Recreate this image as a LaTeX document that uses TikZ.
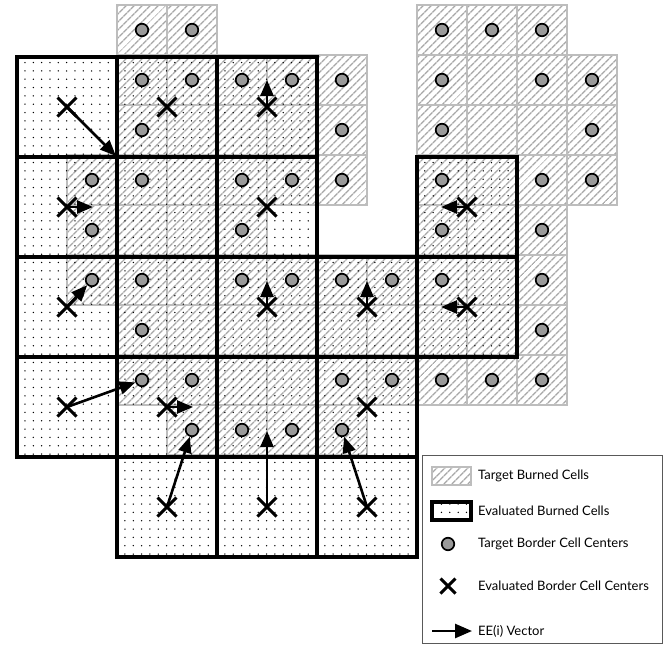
\documentclass[tikz,border=0pt]{standalone}
\usepackage{fontspec}
\setmainfont{Lato}
\usetikzlibrary{patterns.meta,arrows.meta,shapes.misc}
\definecolor{hatchgray}{gray}{0.66}
\definecolor{cellgray}{gray}{0.74}
\definecolor{dotgray}{gray}{0.60}
\definecolor{legendgray}{gray}{0.35}
\tikzset{
  tfill/.style={pattern={Lines[angle=45,distance=5.4pt,line width=1.4pt]}, pattern color=hatchgray},
  tline/.style={draw=cellgray, line width=1.6pt},
  edots/.style={pattern={Dots[distance=8.33pt,radius=0.75pt]}, pattern color=black},
  ecell/.style={draw=black, line width=4pt},
  tcirc/.style={circle, draw=black, line width=1.7pt, fill=dotgray, minimum size=12.5pt, inner sep=0pt},
  ecross/.style={cross out, draw=black, line width=3pt, minimum size=16pt, inner sep=0pt},
  vec/.style={line width=2.6pt, -{Triangle[length=16pt,width=13pt]}},
  lbox/.style={draw=legendgray, line width=1.2pt},
  ltext/.style={anchor=west, font=\fontsize{13}{15}\selectfont, inner sep=0pt}
}
\begin{document}
\begin{tikzpicture}[x=1pt,y=-1pt]
\useasboundingbox (0,0) rectangle (672,654);
% target burned cells: hatch fill
\foreach \j/\lst in {0/{2,3,8,9,10},1/{2,3,4,5,6,8,9,10,11},2/{2,3,4,5,6,8,9,10,11},3/{1,2,3,4,5,6,8,9,10,11},4/{1,2,3,4,8,9,10},5/{1,2,3,4,5,6,7,8,9,10},6/{2,3,4,5,6,7,8,9,10},7/{2,3,4,5,6,7,8,9,10},8/{3,4,5,6}}{
  \foreach \i in \lst { \path[tfill] (17+50*\i,5+50*\j) rectangle ++(50,50); }
}
\foreach \j/\lst in {0/{2,3,8,9,10},1/{2,3,4,5,6,8,9,10,11},2/{2,3,4,5,6,8,9,10,11},3/{1,2,3,4,5,6,8,9,10,11},4/{1,2,3,4,8,9,10},5/{1,2,3,4,5,6,7,8,9,10},6/{2,3,4,5,6,7,8,9,10},7/{2,3,4,5,6,7,8,9,10},8/{3,4,5,6}}{
  \foreach \i in \lst { \path[tline] (17+50*\i,5+50*\j) rectangle ++(50,50); }
}
% evaluated burned cells
\foreach \b/\lst in {0/{0,1,2},1/{0,1,2,4},2/{0,1,2,3,4},3/{0,1,2,3},4/{1,2,3}}{
  \foreach \a in \lst { \path[edots] (17+100*\a,57+100*\b) rectangle ++(100,100); }
}
\foreach \b/\lst in {0/{0,1,2},1/{0,1,2,4},2/{0,1,2,3,4},3/{0,1,2,3},4/{1,2,3}}{
  \foreach \a in \lst { \path[ecell] (17+100*\a,57+100*\b) rectangle ++(100,100); }
}
% target border cell centers
\foreach \j/\lst in {0/{2,3,8,9,10},1/{2,3,4,5,6,8,10,11},2/{2,6,8,11},3/{1,2,4,5,6,8,10,11},4/{1,4,8,10},5/{1,2,4,5,6,7,8,10},6/{2,10},7/{2,3,6,7,8,9,10},8/{3,4,5,6}}{
  \foreach \i in \lst { \node[tcirc] (c-\i-\j) at (42+50*\i,30+50*\j) {}; }
}
% evaluated border cell centers
\foreach \a/\b in {0/0,1/0,2/0,0/1,2/1,4/1,0/2,2/2,3/2,4/2,0/3,1/3,3/3,1/4,2/4,3/4}{
  \node[ecross] (x-\a-\b) at (67+100*\a,107+100*\b) {};
}
% free ends of vectors
\coordinate (e1) at (116,156);
\coordinate (e2) at (93,207);
\coordinate (e3) at (267,80);
\coordinate (e4) at (441,207);
\coordinate (e5) at (267,281);
\coordinate (e6) at (367,281);
\coordinate (e7) at (441,307);
\coordinate (e8) at (193,407);
\coordinate (e9) at (267,431);
% EE(i) vectors
\draw[vec] (x-0-0.center) -- (e1);
\draw[vec] (x-0-1.center) -- (e2);
\draw[vec] (x-2-0.center) -- (e3);
\draw[vec] (x-4-1.center) -- (e4);
\draw[vec] (x-0-2.center) -- (c-1-5);
\draw[vec] (x-2-2.center) -- (e5);
\draw[vec] (x-3-2.center) -- (e6);
\draw[vec] (x-4-2.center) -- (e7);
\draw[vec] (x-0-3.center) -- (c-2-7);
\draw[vec] (x-1-3.center) -- (e8);
\draw[vec] (x-1-4.center) -- (c-3-8);
\draw[vec] (x-2-4.center) -- (e9);
\draw[vec] (x-3-4.center) -- (c-6-8);
% legend
\node[lbox, fill=white, minimum width=240pt, minimum height=188pt, inner sep=0pt, anchor=north west] (legend) at (422,455) {};
\path[tfill] (432,467) rectangle (471,485);
\path[tline] (432,467) rectangle (471,485);
\path[edots] (432,502) rectangle (471,520);
\path[ecell, line width=3.5pt] (432,502) rectangle (471,520);
\node[tcirc] (lc) at (448,544) {};
\node[ecross, minimum size=12pt] (lx) at (448,586) {};
\coordinate (la1) at (432,631);
\coordinate (la2) at (472,631);
\draw[vec, -{Triangle[length=17pt,width=14pt]}] (la1) -- (la2);
\node[ltext] (t1) at (478,476) {Target Burned Cells};
\node[ltext] (t2) at (478,511) {Evaluated Burned Cells};
\node[ltext] (t3) at (478,544) {Target Border Cell Centers};
\node[ltext] (t4) at (478,586) {Evaluated Border Cell Centers};
\node[ltext] (t5) at (478,631) {EE(i) Vector};
\end{tikzpicture}
\end{document}
